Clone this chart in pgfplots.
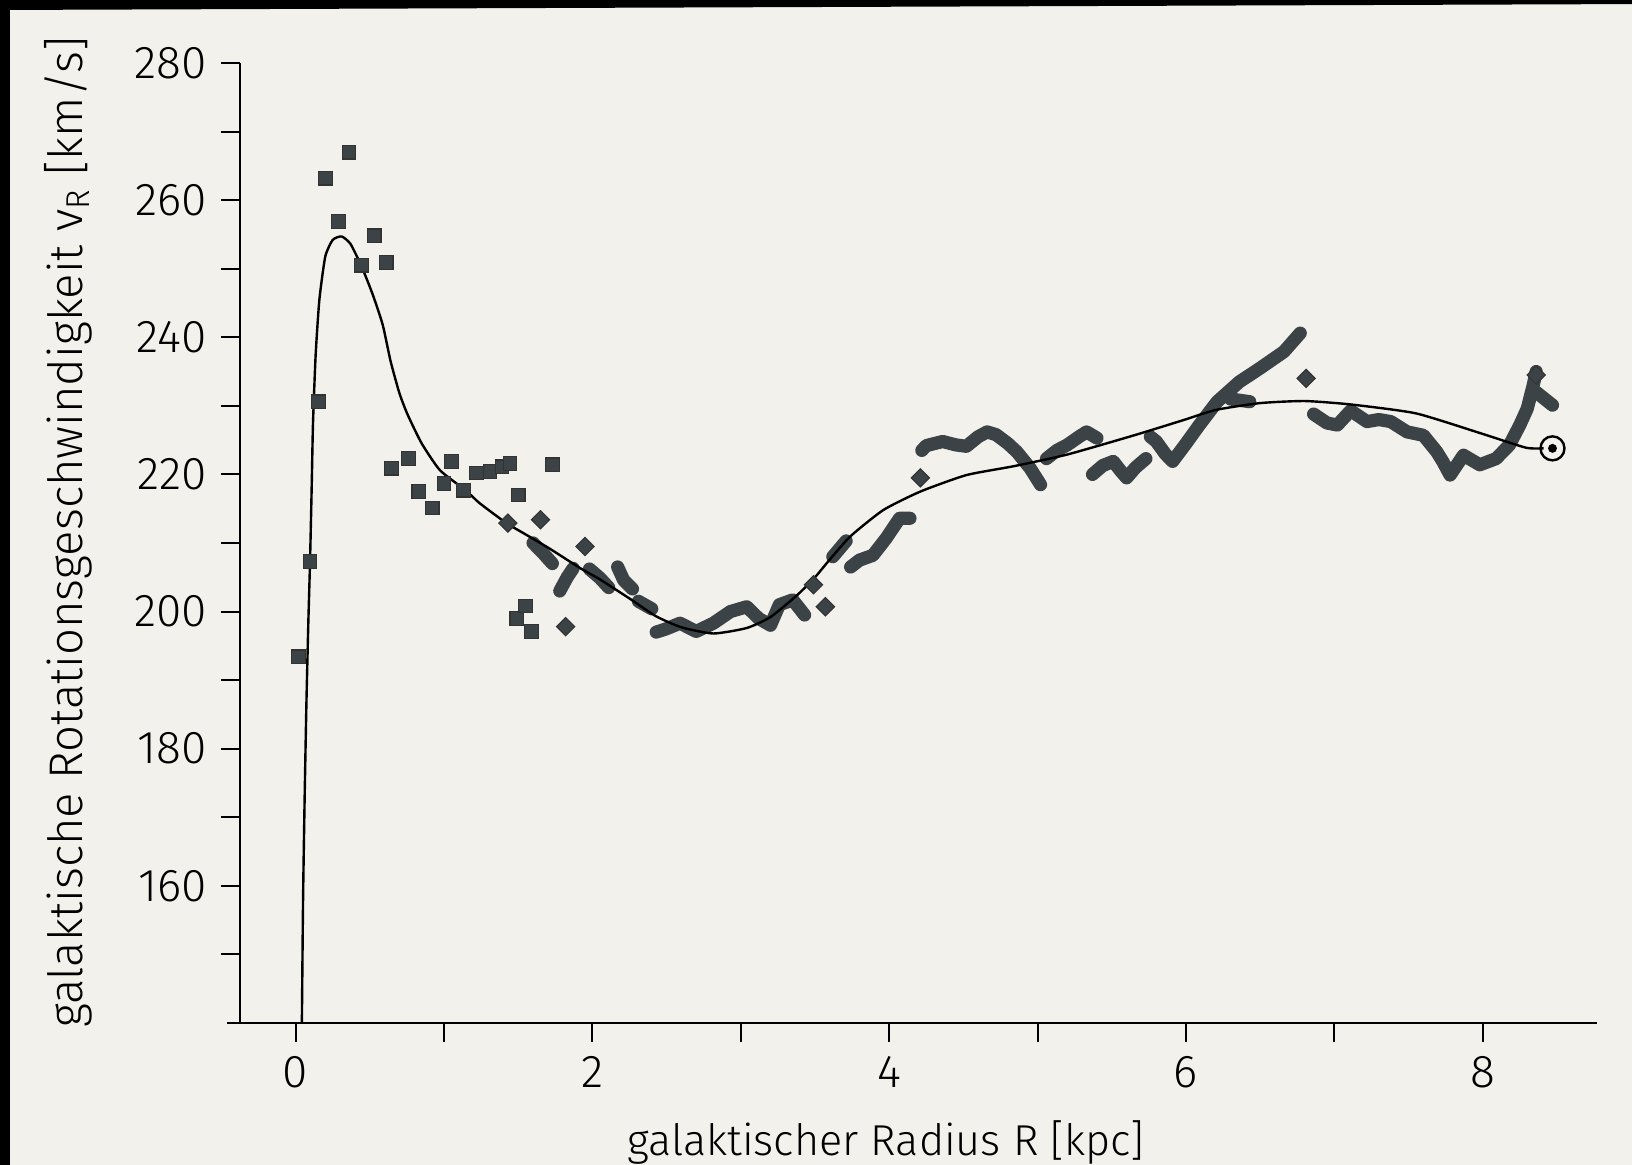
\documentclass[border=0pt]{standalone}
\usepackage{fontspec}
\setmainfont{Fira Sans Light}
\usepackage{pgfplots}
\pgfplotsset{compat=1.18}
\definecolor{paper}{HTML}{F2F1EC}
\definecolor{mk}{HTML}{3C4347}

\begin{document}
\begin{tikzpicture}
\path[use as bounding box] (0,0) rectangle (408pt,291.25pt);
\fill[paper] (-6pt,-6pt) rectangle (414pt,297pt);
\begin{axis}[
  at={(60pt,35.5pt)}, anchor=south west,
  scale only axis,
  width=339.25pt, height=240pt,
  xmin=-0.375, xmax=8.77,
  ymin=140, ymax=280,
  axis lines=left,
  axis line style={-, line width=0.7pt},
  xtick={0,2,4,6,8}, minor xtick={1,3,5,7},
  ytick={160,180,...,280}, minor ytick={150,170,...,270},
  tick align=outside,
  major tick length=4.75pt, minor tick length=4.75pt,
  tick style={line width=0.5pt, black},
  /pgf/number format/assume math mode=true,
  tick label style={font=\fontsize{11.5}{13}\selectfont},
  xlabel={galaktischer Radius R [kpc]},
  ylabel={galaktische Rotationsgeschwindigkeit v\textsubscript{R} [km/s]},
  xlabel style={font=\fontsize{10.8}{13}\selectfont, at={(rel axis cs:0.476,-0.138)}, anchor=base},
  ylabel style={font=\fontsize{11.8}{13}\selectfont, at={(rel axis cs:-0.1164,0.511)}, anchor=base},
]
% bands of overlapping measurements
\pgfplotsset{band/.style={mk, line width=3.3pt, line join=round, line cap=round}}
\addplot[band] coordinates {(1.60,210.0) (1.66,208.7) (1.73,207.0)};
\addplot[band] coordinates {(1.78,203.0) (1.83,205.0) (1.87,206.3)};
\addplot[band] coordinates {(1.98,206.2) (2.05,204.9) (2.11,203.5)};
\addplot[band] coordinates {(2.17,206.5) (2.21,204.6) (2.27,203.3)};
\addplot[band] coordinates {(2.31,201.5) (2.40,200.4)};
\addplot[band] coordinates {(2.43,197.0) (2.50,197.5) (2.59,198.3) (2.70,197.1) (2.815,198.3) (2.93,200.0) (3.04,200.7) (3.12,199.0) (3.20,198.0) (3.26,201.0) (3.35,201.7) (3.43,199.5)};
\addplot[band] coordinates {(3.62,208.0) (3.71,210.3)};
\addplot[band] coordinates {(3.74,206.5) (3.80,207.5) (3.89,208.2) (3.98,210.7) (4.07,213.6) (4.14,213.6)};
\addplot[band] coordinates {(4.22,223.5) (4.25,224.2) (4.36,224.8) (4.45,224.3) (4.52,224.1) (4.60,225.5) (4.66,226.2) (4.72,225.8) (4.80,224.5) (4.86,223.3) (4.95,220.9) (5.02,218.5)};
\addplot[band] coordinates {(5.06,222.3) (5.13,223.5) (5.20,224.3) (5.28,225.5) (5.33,226.2) (5.40,225.3)};
\addplot[band] coordinates {(5.37,220.0) (5.44,221.3) (5.51,221.9) (5.56,220.5) (5.60,219.5) (5.66,221.0) (5.73,222.3)};
\addplot[band] coordinates {(5.76,225.5) (5.80,224.8) (5.86,223.0) (5.91,221.9) (6.00,224.5) (6.09,227.2) (6.21,230.6) (6.36,233.5) (6.50,235.5) (6.66,237.9) (6.77,240.6)};
\addplot[band] coordinates {(6.30,231.0) (6.43,230.6)};
\addplot[band] coordinates {(6.86,228.8) (6.95,227.5) (7.02,227.2) (7.11,229.3) (7.22,227.7) (7.30,228.0) (7.38,227.7) (7.49,226.2) (7.60,225.7) (7.69,223.3) (7.73,221.9) (7.78,219.9) (7.87,222.8) (7.98,221.4) (8.09,222.3) (8.18,224.3) (8.25,227.2) (8.30,229.6) (8.34,233.0) (8.36,235.0)};
\addplot[band] coordinates {(8.36,232.0) (8.47,230.1)};
% isolated squares
\addplot[only marks, mark=square*, mark size=1.7pt,
  mark options={fill=mk, draw=black!80, line width=0.3pt}] coordinates {
(0.018,193.4) (0.097,207.3) (0.153,230.6) (0.20,263.2) (0.29,256.9) (0.36,267.0)
(0.445,250.5) (0.53,254.8) (0.61,250.9) (0.645,220.9) (0.76,222.3) (0.83,217.5)
(0.92,215.1) (1.00,218.7) (1.05,221.9) (1.13,217.7) (1.22,220.2) (1.31,220.4)
(1.39,221.1) (1.445,221.6) (1.50,217.0) (1.73,221.4)
(1.49,199.0) (1.55,200.8) (1.59,197.1)
};
% isolated diamonds
\addplot[only marks, mark=square*, mark size=1.6pt,
  mark options={rotate=45, fill=mk, draw=black!80, line width=0.3pt}] coordinates {
(1.43,212.9) (1.65,213.4) (1.95,209.5) (1.82,197.8) (3.49,203.9) (3.57,200.7)
(4.21,219.5) (6.81,234.0) (8.36,234.5)
};
% fitted rotation curve
\addplot[black, line width=0.6pt, smooth, tension=0.35] coordinates {
(0.042,140) (0.05,158) (0.06,172) (0.072,186) (0.085,198) (0.097,207.3)
(0.108,218) (0.117,227.5) (0.135,237.5) (0.16,245.5) (0.20,251.8) (0.25,254.2)
(0.31,254.7) (0.37,253.6) (0.445,250.3) (0.52,246.2) (0.587,241.8) (0.64,236.5)
(0.70,231.8) (0.755,228.7) (0.85,224.5) (0.973,220.6) (1.15,217.6) (1.24,215.8)
(1.42,212.9) (1.53,211.5) (1.71,209.2) (1.92,206.3) (2.05,204.7) (2.25,201.9)
(2.43,199.3) (2.6,197.7) (2.815,196.8) (3.04,197.6) (3.2,199.2) (3.38,202.4)
(3.5,205.0) (3.6,207.6) (3.74,211.0) (3.96,214.8) (4.21,217.5) (4.52,219.9)
(4.84,221.2) (5.2,222.9) (5.65,225.7) (5.98,227.9) (6.2,229.4) (6.5,230.4)
(6.8,230.7) (7.11,230.2) (7.55,228.9) (8.0,225.9) (8.29,223.9) (8.41,223.8)
};
% sun
\addplot[only marks, mark=o, mark size=3pt,
  mark options={black, line width=0.6pt, fill=paper}] coordinates {(8.47,223.8)};
\addplot[only marks, mark=*, mark size=0.9pt, black] coordinates {(8.47,223.8)};
\end{axis}
\draw[line width=0.7pt] (60pt,35.5pt) -- ++(-3.3pt,0);
\fill[black] (-6pt,-6pt) rectangle (2.5pt,297pt);
\fill[black] (-6pt,297pt) -- (414pt,297pt) -- (414pt,290.25pt) -- (0,288.75pt) -- (-6pt,288.75pt) -- cycle;
\end{tikzpicture}
\end{document}
